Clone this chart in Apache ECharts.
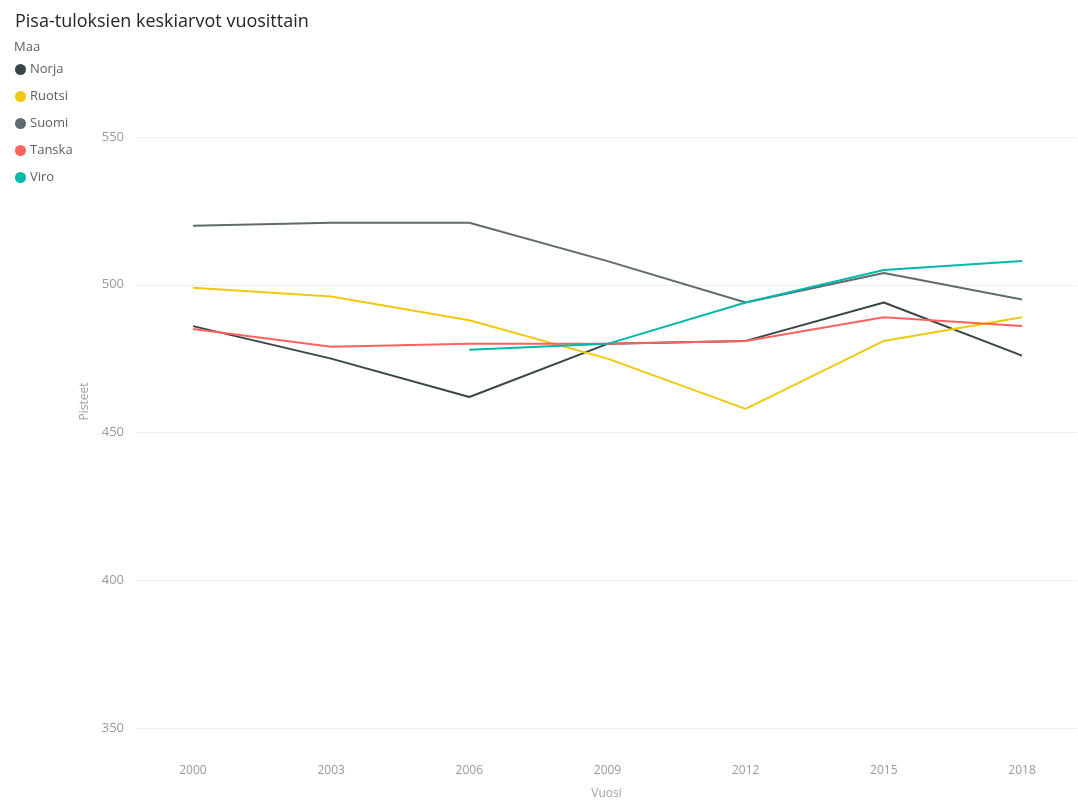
<!DOCTYPE html>
<html>
<head>
<meta charset="utf-8">
<script src="https://cdn.jsdelivr.net/npm/echarts@6/dist/echarts.min.js"></script>
<style>
html,body{margin:0;padding:0;background:#fff;}
#chart{width:1078px;height:805px;}
</style>
</head>
<body>
<div id="chart"></div>
<script>
const years = [2000, 2003, 2006, 2009, 2012, 2015, 2018];
const yTicks = [350, 400, 450, 500, 550];
const countries = ['Norja', 'Ruotsi', 'Suomi', 'Tanska', 'Viro'];
const norja  = [486, 475, 462, 480, 481, 494, 476];
const ruotsi = [499, 496, 488, 475, 458, 481, 489];
const suomi  = [520, 521, 521, 508, 494, 504, 495];
const tanska = [485, 479, 480, 480, 481, 489, 486];
const viro   = [null, null, 478, 480, 494, 505, 508];
const colors = ['#374649', '#F2C80F', '#5F6B6D', '#FD625E', '#01B8AA'];

const seriesValues = [norja, ruotsi, suomi, tanska, viro];
const font = "'Segoe UI', 'Open Sans', 'Noto Sans', sans-serif";

const chart = echarts.init(document.getElementById('chart'), null, {renderer: 'canvas'});
chart.setOption({
  animation: false,
  backgroundColor: '#ffffff',
  color: colors,
  title: [
    {text: 'Pisa-tuloksien keskiarvot vuosittain', left: 10, top: 8,
     textStyle: {fontFamily: font, fontSize: 18, fontWeight: 'normal', color: '#252423'}},
    {text: 'Maa', left: 9, top: 36,
     textStyle: {fontFamily: font, fontSize: 13, fontWeight: 'normal', color: '#605E5C'}}
  ],
  legend: {
    orient: 'vertical', left: 10, top: 58,
    icon: 'circle', itemWidth: 11, itemHeight: 11, itemGap: 14,
    data: countries,
    textStyle: {fontFamily: font, fontSize: 13, color: '#605E5C', padding: [0, 0, 0, -1]}
  },
  grid: {left: 136, right: 1, top: 137, bottom: 72, containLabel: false},
  xAxis: {
    type: 'value',
    min: 2000 - 57 / 46.07,
    max: 2018 + 55 / 46.07,
    name: 'Vuosi', nameLocation: 'middle', nameGap: 60,
    nameTextStyle: {fontFamily: font, fontSize: 12, color: '#A0A0A0'},
    axisLine: {show: false}, axisTick: {show: false},
    splitLine: {show: false},
    axisLabel: {
      customValues: years, margin: 37,
      fontFamily: font, fontSize: 12, color: '#999999',
      formatter: v => String(v)
    }
  },
  yAxis: {
    type: 'value', min: 350, max: 550, interval: 50,
    name: 'Pisteet', nameLocation: 'middle', nameGap: 45,
    nameTextStyle: {fontFamily: font, fontSize: 12, color: '#A0A0A0', padding: [0, 0, 0, 62]},
    axisLine: {show: false}, axisTick: {show: false},
    splitLine: {lineStyle: {color: '#EEEEEE', width: 1}},
    axisLabel: {margin: 12, fontFamily: font, fontSize: 13, color: '#999999'}
  },
  series: countries.map((name, i) => ({
    name: name,
    type: 'line',
    data: years.map((y, j) => [y, seriesValues[i][j]]).filter(p => p[1] !== null),
    showSymbol: false,
    symbol: 'none',
    lineStyle: {width: 2, color: colors[i]},
    itemStyle: {color: colors[i]}
  }))
});
</script>
</body>
</html>
